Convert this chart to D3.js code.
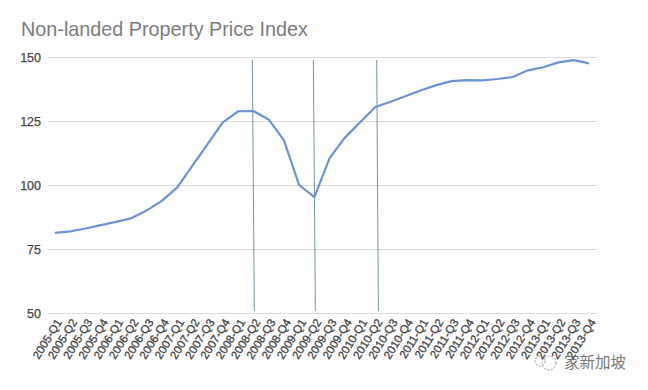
<!DOCTYPE html>
<html>
<head>
<meta charset="utf-8">
<script src="https://cdn.jsdelivr.net/npm/d3@7"></script>
<style>
  html, body { margin: 0; padding: 0; background: #fff; }
  text { font-family: "Liberation Sans", Arial, sans-serif; }
</style>
</head>
<body>
<div id="chart"></div>
<script>
var quarters = ["2005-Q1","2005-Q2","2005-Q3","2005-Q4","2006-Q1","2006-Q2","2006-Q3","2006-Q4",
  "2007-Q1","2007-Q2","2007-Q3","2007-Q4","2008-Q1","2008-Q2","2008-Q3","2008-Q4",
  "2009-Q1","2009-Q2","2009-Q3","2009-Q4","2010-Q1","2010-Q2","2010-Q3","2010-Q4",
  "2011-Q1","2011-Q2","2011-Q3","2011-Q4","2012-Q1","2012-Q2","2012-Q3","2012-Q4",
  "2013-Q1","2013-Q2","2013-Q3","2013-Q4"];
var priceIndex = [81.3,81.9,83,84.3,85.6,87,90,93.8,
  99,107.5,116,124.5,128.8,128.9,125.6,117.5,
  100,95.3,110.5,118.5,124.5,130.5,132.5,134.8,
  137,139,140.6,141,140.9,141.4,142.2,144.8,
  146,147.9,148.8,147.5];
var yTicks = [50,75,100,125,150];
var markers = ["2008-Q2","2009-Q2","2010-Q2"];

var width = 648;
var height = 390;

var svg = d3.select("#chart")
  .append("svg")
    .attr("width", width)
    .attr("height", height)
    .style("display", "block");

// point scale so first and last quarter sit inside the gridlines
var x = d3.scalePoint()
  .domain(quarters)
  .range([55, 589]);

var y = d3.scaleLinear()
  .domain([50, 150])
  .range([313, 57]);

// title
svg.append("text")
  .attr("x", 21)
  .attr("y", 35.5)
  .attr("font-size", 19.8)
  .attr("fill", "#7c7c7c")
  .text("Non-landed Property Price Index");

// gridlines + y labels
var yAxis = svg.append("g")
  .attr("transform", "translate(47,0)")
  .call(d3.axisLeft(y).tickValues(yTicks).tickSize(-550).tickPadding(6));
yAxis.select(".domain").remove();
yAxis.selectAll(".tick line")
  .attr("stroke", "#dcdcdc")
  .attr("stroke-width", 1.2);
yAxis.selectAll(".tick text")
  .attr("font-size", 12.5)
  .attr("fill", "#444")
  .attr("stroke", "#444")
  .attr("stroke-width", 0.25);

// x labels, rotated
var xAxis = svg.append("g")
  .attr("transform", "translate(0,313)")
  .call(d3.axisBottom(x).tickSize(0));
xAxis.select(".domain").remove();
xAxis.selectAll(".tick text")
  .attr("font-size", 11.5)
  .attr("fill", "#444")
  .attr("stroke", "#444")
  .attr("stroke-width", 0.3)
  .attr("text-anchor", "end")
  .attr("dx", 0)
  .attr("dy", 0)
  .attr("y", 0)
  .attr("transform", "translate(7,9) rotate(-58)");

// the three vertical lines lean a little in the picture, the last one sits right of its point
svg.append("g")
  .selectAll("line")
  .data(markers)
  .enter()
  .append("line")
    .attr("x1", function(d, i) { return x(d) - 1 + (i == 2 ? 2.3 : 0); })
    .attr("x2", function(d, i) { return x(d) + 1 + (i == 2 ? 2 : 0); })
    .attr("y1", 60)
    .attr("y2", 311)
    .attr("stroke", "#6f97a3")
    .attr("stroke-width", 1);

// price line
var line = d3.line()
  .x(function(d, i) { return x(quarters[i]); })
  .y(function(d) { return y(d); });

svg.append("path")
  .datum(priceIndex)
  .attr("d", line)
  .attr("fill", "none")
  .attr("stroke", "#6a93d4")
  .attr("stroke-width", 2.2)
  .attr("stroke-linejoin", "round");

// watermark
var wm = svg.append("g").attr("fill", "none").attr("stroke", "#8a8a8a").attr("stroke-width", 0.9).attr("stroke-dasharray", "2,1.5");
wm.append("circle").attr("cx", 540).attr("cy", 361).attr("r", 5);
wm.append("circle").attr("cx", 549).attr("cy", 363).attr("r", 7);
svg.append("text")
  .attr("x", 564)
  .attr("y", 368)
  .attr("font-size", 15.5)
  .attr("fill", "#777")
  .style("font-family", "'Noto Sans CJK SC'")
  .text("家新加坡");
</script>
</body>
</html>
